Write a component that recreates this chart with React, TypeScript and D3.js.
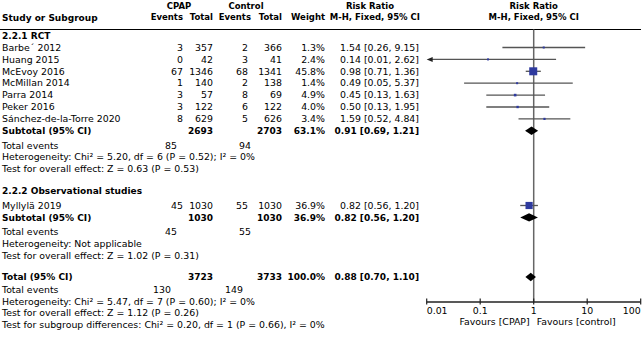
import React from "react";
import * as d3 from "d3";

const rctStudies = ["Barbe´ 2012", "Huang 2015", "McEvoy 2016", "McMillan 2014", "Parra 2014", "Peker 2016", "Sánchez-de-la-Torre 2020"];
const rctCpapEvents = [3, 0, 67, 1, 3, 3, 8];
const rctCpapTotal = [357, 42, 1346, 140, 57, 122, 629];
const rctCtrlEvents = [2, 3, 68, 2, 8, 6, 5];
const rctCtrlTotal = [366, 41, 1341, 138, 69, 122, 626];
const rctWeight = [1.3, 2.4, 45.8, 1.4, 4.9, 4.0, 3.4];
const rctRR = [1.54, 0.14, 0.98, 0.49, 0.45, 0.5, 1.59];
const rctLo = [0.26, 0.01, 0.71, 0.05, 0.13, 0.13, 0.52];
const rctHi = [9.15, 2.62, 1.36, 5.37, 1.63, 1.95, 4.84];

const obsStudies = ["Myllylä 2019"];
const obsCpapEvents = [45];
const obsCpapTotal = [1030];
const obsCtrlEvents = [55];
const obsCtrlTotal = [1030];
const obsWeight = [36.9];
const obsRR = [0.82];
const obsLo = [0.56];
const obsHi = [1.2];

// subtotal / total: [cpapTotal, ctrlTotal, weight, rr, lo, hi, cpapEvents, ctrlEvents]
const rctSubtotal = [2693, 2703, 63.1, 0.91, 0.69, 1.21, 85, 94];
const obsSubtotal = [1030, 1030, 36.9, 0.82, 0.56, 1.2, 45, 55];
const overallTotal = [3723, 3733, 100.0, 0.88, 0.7, 1.1, 130, 149];

const rctTests = ["Heterogeneity: Chi² = 5.20, df = 6 (P = 0.52); I² = 0%", "Test for overall effect: Z = 0.63 (P = 0.53)"];
const obsTests = ["Heterogeneity: Not applicable", "Test for overall effect: Z = 1.02 (P = 0.31)"];
const totalTests = [
  "Heterogeneity: Chi² = 5.47, df = 7 (P = 0.60); I² = 0%",
  "Test for overall effect: Z = 1.12 (P = 0.26)",
  "Test for subgroup differences: Chi² = 0.20, df = 1 (P = 0.66), I² = 0%",
];
const axisTicks = [0.01, 0.1, 1, 10, 100];
const axisTickLabels = ["0.01", "0.1", "1", "10", "100"];
const groupTitles = ["2.2.1 RCT", "2.2.2 Observational studies"];

const W = 643;
const H = 338;
const FONT = "DejaVu Sans, Verdana, sans-serif";
const FS = 9.4;
const FSB = 9;
const FSH = 8.5;

const xCpapEv = 183;
const xCpapTot = 213;
const xCtrlEv = 248;
const xCtrlTot = 282;
const xWeight = 325;
const xRR = 419;

const x = d3.scaleLog().domain([0.01, 100]).range([426.7, 640.7]);
const sq = d3.scaleSqrt().domain([0, 45.8]).range([0, 8]);

const T = (props: any) => {
  const { x: tx, y, anchor = "start", bold = false, size, children } = props;
  return (
    <text x={tx} y={y} dy="0.35em" textAnchor={anchor} fontWeight={bold ? "bold" : "normal"} fontSize={size ?? (bold ? FSB : FS)} fontFamily={FONT} fill="#000">
      {children}
    </text>
  );
};

function StudyRow({ y, name, ce, ct, ke, kt, w, rr, lo, hi }: any) {
  const s = Math.max(2, sq(w));
  const x1 = x(Math.max(lo, 0.01));
  const x2 = x(Math.min(hi, 100));
  const arrowL = lo <= 0.01;
  return (
    <g>
      <T x={2} y={y}>{name}</T>
      <T x={xCpapEv} y={y} anchor="end">{ce}</T>
      <T x={xCpapTot} y={y} anchor="end">{ct}</T>
      <T x={xCtrlEv} y={y} anchor="end">{ke}</T>
      <T x={xCtrlTot} y={y} anchor="end">{kt}</T>
      <T x={xWeight} y={y} anchor="end">{w.toFixed(1)}%</T>
      <T x={xRR} y={y} anchor="end">{`${rr.toFixed(2)} [${lo.toFixed(2)}, ${hi.toFixed(2)}]`}</T>
      <line x1={arrowL ? x1 + 3 : x1} x2={x2} y1={y} y2={y} stroke="#555" strokeWidth={1.3} />
      {arrowL && <path d={`M${x1},${y} L${x1 + 6},${y - 2.5} L${x1 + 6},${y + 2.5} Z`} fill="#222" />}
      <rect x={x(rr) - s / 2} y={y - s / 2} width={s} height={s} fill="#2e3a9e" />
    </g>
  );
}

function SummaryRow({ y, label, vals }: any) {
  const [ct, kt, w, rr, lo, hi] = vals;
  const h = 4.2;
  const d = `M${x(lo)},${y} L${x(rr)},${y - h} L${x(hi)},${y} L${x(rr)},${y + h} Z`;
  return (
    <g>
      <T x={2} y={y} bold>{label}</T>
      <T x={xCpapTot} y={y} anchor="end" bold>{ct}</T>
      <T x={xCtrlTot} y={y} anchor="end" bold>{kt}</T>
      <T x={xWeight} y={y} anchor="end" bold>{w.toFixed(1)}%</T>
      <T x={xRR} y={y} anchor="end" bold>{`${rr.toFixed(2)} [${lo.toFixed(2)}, ${hi.toFixed(2)}]`}</T>
      <path d={d} fill="#000" />
    </g>
  );
}

export default function App() {
  const rowH = 11.9;
  const rctY0 = 47.5;
  const rctYs = rctStudies.map((_, i) => rctY0 + i * rowH);
  const rctSubY = rctY0 + rctStudies.length * rowH;
  const rctEvY = rctSubY + 14.5;
  const rctTestYs = rctTests.map((_, i) => rctEvY + (i + 1) * rowH);
  const obsHeadY = 191;
  const obsYs = obsStudies.map((_, i) => 205.5 + i * rowH);
  const obsSubY = 205.5 + obsStudies.length * rowH;
  const obsEvY = obsSubY + 14.5;
  const obsTestYs = obsTests.map((_, i) => obsEvY + (i + 1) * rowH);
  const totY = 277;
  const totEvY = totY + 12.5;
  const totTestYs = totalTests.map((_, i) => totEvY + (i + 1) * 11.8);
  const axisY = 302;

  return (
    <svg width={W} height={H} style={{ position: "absolute", left: 0, top: 0 }}>
      <rect width={W} height={H} fill="#fff" />
      {/* headers */}
      <T x={179} y={6} anchor="middle" bold size={FSH}>CPAP</T>
      <T x={246} y={6} anchor="middle" bold size={FSH}>Control</T>
      <T x={370} y={6} anchor="middle" bold size={FSH}>Risk Ratio</T>
      <T x={x(1)} y={6} anchor="middle" bold size={FSH}>Risk Ratio</T>
      <T x={2} y={17.5} bold>Study or Subgroup</T>
      <T x={xCpapEv} y={17.5} anchor="end" bold size={FSH}>Events</T>
      <T x={xCpapTot} y={17.5} anchor="end" bold size={FSH}>Total</T>
      <T x={xCtrlEv + 3} y={17.5} anchor="end" bold size={FSH}>Events</T>
      <T x={xCtrlTot} y={17.5} anchor="end" bold size={FSH}>Total</T>
      <T x={xWeight} y={17.5} anchor="end" bold size={FSH}>Weight</T>
      <T x={xRR + 1} y={17.5} anchor="end" bold size={FSH}>M-H, Fixed, 95% CI</T>
      <T x={x(1)} y={17.5} anchor="middle" bold size={FSH}>M-H, Fixed, 95% CI</T>
      <line x1={0} x2={641} y1={29.5} y2={29.5} stroke="#000" strokeWidth={1} />

      {/* null line */}
      <line x1={x(1)} x2={x(1)} y1={29.5} y2={axisY} stroke="#666" strokeWidth={1.5} />

      {/* RCT */}
      <T x={2} y={36} bold>{groupTitles[0]}</T>
      {rctStudies.map((n, i) => (
        <StudyRow key={n} y={rctYs[i]} name={n} ce={rctCpapEvents[i]} ct={rctCpapTotal[i]} ke={rctCtrlEvents[i]} kt={rctCtrlTotal[i]} w={rctWeight[i]} rr={rctRR[i]} lo={rctLo[i]} hi={rctHi[i]} />
      ))}
      <SummaryRow y={rctSubY} label="Subtotal (95% CI)" vals={rctSubtotal} />
      <T x={2} y={rctEvY}>Total events</T>
      <T x={177} y={rctEvY} anchor="end">{rctSubtotal[6]}</T>
      <T x={251} y={rctEvY} anchor="end">{rctSubtotal[7]}</T>
      {rctTests.map((t, i) => <T key={t} x={2} y={rctTestYs[i]}>{t}</T>)}

      {/* Observational */}
      <T x={2} y={obsHeadY} bold>{groupTitles[1]}</T>
      {obsStudies.map((n, i) => (
        <StudyRow key={n} y={obsYs[i]} name={n} ce={obsCpapEvents[i]} ct={obsCpapTotal[i]} ke={obsCtrlEvents[i]} kt={obsCtrlTotal[i]} w={obsWeight[i]} rr={obsRR[i]} lo={obsLo[i]} hi={obsHi[i]} />
      ))}
      <SummaryRow y={obsSubY} label="Subtotal (95% CI)" vals={obsSubtotal} />
      <T x={2} y={obsEvY}>Total events</T>
      <T x={177} y={obsEvY} anchor="end">{obsSubtotal[6]}</T>
      <T x={251} y={obsEvY} anchor="end">{obsSubtotal[7]}</T>
      {obsTests.map((t, i) => <T key={t} x={2} y={obsTestYs[i]}>{t}</T>)}

      {/* Total */}
      <SummaryRow y={totY} label="Total (95% CI)" vals={overallTotal} />
      <T x={2} y={totEvY}>Total events</T>
      <T x={171} y={totEvY} anchor="end">{overallTotal[6]}</T>
      <T x={243} y={totEvY} anchor="end">{overallTotal[7]}</T>
      {totalTests.map((t, i) => <T key={t} x={2} y={totTestYs[i]}>{t}</T>)}

      {/* axis */}
      <line x1={x(0.01)} x2={x(100)} y1={axisY} y2={axisY} stroke="#222" strokeWidth={1.3} />
      {axisTicks.map((t, i) => (
        <g key={t}>
          <line x1={x(t)} x2={x(t)} y1={axisY - 3.5} y2={axisY + 2.5} stroke="#222" strokeWidth={1.2} />
          <T x={x(t)} y={axisY + 8.5} anchor={i === 0 ? "start" : i === axisTicks.length - 1 ? "end" : "middle"}>{axisTickLabels[i]}</T>
        </g>
      ))}
      <T x={x(1) - 4} y={axisY + 20} anchor="end">Favours [CPAP]</T>
      <T x={x(1) + 3} y={axisY + 20}>Favours [control]</T>
    </svg>
  );
}
